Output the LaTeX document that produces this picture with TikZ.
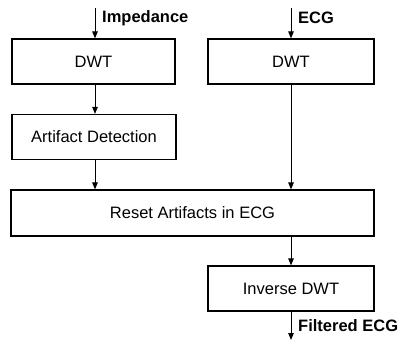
\documentclass[tikz,border=0pt]{standalone}
\usepackage{fontspec}
\setmainfont{Liberation Sans}
\usetikzlibrary{arrows.meta}
\begin{document}
\begin{tikzpicture}[x=1pt,y=-1pt,
  blk/.style={draw=black,line width=1.2pt,fill=white,inner sep=0pt,font=\fontsize{16.5}{18}\selectfont},
  flow/.style={line width=1pt,-{Triangle[length=7pt,width=5.5pt]}},
  lbl/.style={anchor=west,font=\bfseries\fontsize{16.5}{18}\selectfont,inner sep=0pt}]
\useasboundingbox (0,0) rectangle (401,341);
% boxes
\node[blk,minimum width=163pt,minimum height=45pt] (dwt1) at (93.5,61.5) {DWT};
\node[blk,minimum width=166pt,minimum height=45pt] (dwt2) at (291,61.5) {DWT};
\node[blk,minimum width=164pt,minimum height=45pt] (det) at (94,137) {Artifact Detection};
\node[blk,minimum width=363pt,minimum height=46pt] (reset) at (192.5,213) {Reset Artifacts in ECG};
\node[blk,minimum width=166pt,minimum height=45pt] (inv) at (291,288.5) {Inverse DWT};
% free ends of the input and output lines
\coordinate (in1) at (95,8);
\coordinate (in2) at (291,8);
\coordinate (out) at (291,340);
% inputs
\draw[flow] (in1) -- (in1 |- dwt1.north);
\draw[flow] (in2) -- (dwt2.north);
\node[lbl] (limp) at (102,18) {Impedance};
\node[lbl] (lecg) at (298,18) {ECG};
% processing chain
\draw[flow] (in1 |- dwt1.south) -- (in1 |- det.north);
\draw[flow] (in1 |- det.south) -- (in1 |- reset.north);
\draw[flow] (dwt2.south) -- (dwt2.south |- reset.north);
\draw[flow] (inv.north |- reset.south) -- (inv.north);
\draw[flow] (inv.south) -- (out);
\node[lbl] (lout) at (298,326) {Filtered ECG};
\end{tikzpicture}
\end{document}
